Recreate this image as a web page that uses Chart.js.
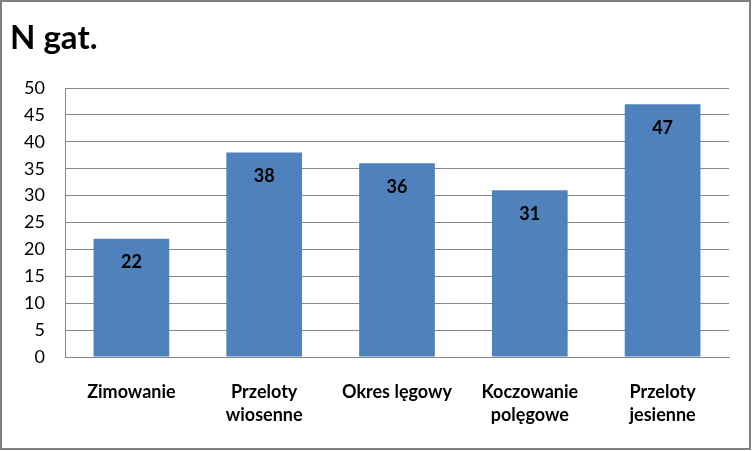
<!DOCTYPE html>
<html><head><meta charset="utf-8">
<script src="https://cdn.jsdelivr.net/npm/chart.js@4/dist/chart.umd.min.js"></script>
<style>html,body{margin:0;padding:0;background:#fff}canvas{display:block}</style>
</head><body>
<canvas id="c" width="753" height="451"></canvas>
<script>
const categories = [['Zimowanie'], ['Przeloty','wiosenne'], ['Okres lęgowy'], ['Koczowanie','polęgowe'], ['Przeloty','jesienne']];
const values = [22, 38, 36, 31, 47];
const yTicks = [0, 5, 10, 15, 20, 25, 30, 35, 40, 45, 50];
const titleText = 'N gat.';
const FONT = 'Lato, "Open Sans", sans-serif';

const labelPlugin = {
  id: 'valLabels',
  afterDatasetsDraw(chart) {
    const ctx = chart.ctx;
    const meta = chart.getDatasetMeta(0);
    ctx.save();
    ctx.font = 'bold 18px ' + FONT;
    ctx.fillStyle = '#000';
    ctx.textAlign = 'center';
    ctx.textBaseline = 'middle';
    meta.data.forEach((bar, i) => {
      ctx.fillText(String(values[i]), bar.x, bar.y + 24);
    });
    ctx.restore();
  }
};
const borderPlugin = {
  id: 'outerBorder',
  afterDraw(chart) {
    const ctx = chart.ctx;
    ctx.save();
    ctx.strokeStyle = '#7f7f7f';
    ctx.lineWidth = 2;
    ctx.strokeRect(1, 1, 749, 448);
    ctx.restore();
  }
};

new Chart(document.getElementById('c'), {
  type: 'bar',
  data: {
    labels: categories,
    datasets: [{
      data: values,
      backgroundColor: '#4F81BD',
      borderWidth: 0,
      categoryPercentage: 1,
      barPercentage: 0.57
    }]
  },
  options: {
    responsive: false,
    animation: false,
    layout: { padding: { left: 10, right: 24, top: 0, bottom: 0 } },
    plugins: {
      legend: { display: false },
      tooltip: { enabled: false },
      title: {
        display: true,
        text: titleText,
        align: 'start',
        color: '#000',
        font: { family: FONT, size: 33, weight: 'bold', lineHeight: 1.2 },
        padding: { top: 19, bottom: 29.4 }
      }
    },
    scales: {
      x: {
        grid: { display: false, drawTicks: false },
        border: { display: true, color: '#868686', width: 1 },
        ticks: { color: '#000', padding: 24, font: { family: FONT, size: 18, weight: 'bold', lineHeight: 1.28 }, maxRotation: 0, autoSkip: false },
        afterFit(s) { s.height = 94; }
      },
      y: {
        min: 0, max: 50,
        afterBuildTicks(s) { s.ticks = yTicks.map(v => ({ value: v })); },
        grid: { color: '#868686', lineWidth: 1, drawTicks: false },
        border: { display: true, color: '#868686', width: 1 },
        ticks: { color: '#000', padding: 20, font: { family: FONT, size: 18 } },
        afterFit(s) { s.width = 55; }
      }
    }
  },
  plugins: [labelPlugin, borderPlugin]
});
</script>
</body></html>
